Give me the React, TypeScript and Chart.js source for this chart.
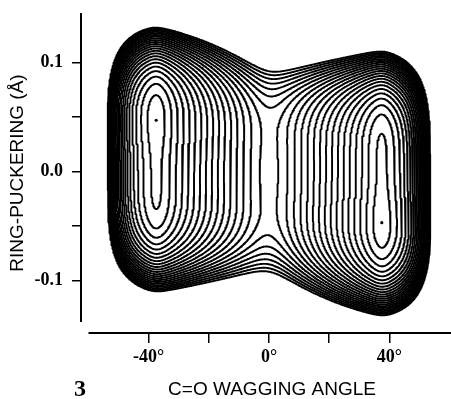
import React, { useEffect, useRef } from 'react';
import { Chart, registerables } from 'chart.js';

Chart.register(...registerables);

// ---------- axes ----------
const X_TICKS = [-40, -20, 0, 20, 40];
const X_TICK_LABELS = ['-40°', '', '0°', '', '40°'];
const Y_TICKS = [-0.1, -0.05, 0, 0.05, 0.1];
const Y_TICK_LABELS = ['-0.1', '', '0.0', '', '0.1'];
const X_RANGE = [-62.5, 64.5];
const Y_RANGE = [-0.1482, 0.1454];
const X_AXIS_START = -60; // drawn x-axis line begins here
const Y_AXIS_END = -0.138; // drawn y-axis line stops here

const X_TITLE = 'C=O WAGGING ANGLE';
const Y_TITLE = 'RING-PUCKERING (Å)';
const FIGURE_NUMBER = '3';

// ---------- minima (dots) ----------
const MINIMA_X = [-37.5, 37.5];
const MINIMA_Y = [0.047, -0.047];

// ---------- contour levels (equally spaced energies) ----------
const LEVELS = [
  0.3, 1.3, 2.3, 3.3, 4.3, 5.3, 6.3, 7.3, 8.3, 9.3, 10.3, 11.3,
  12.3, 13.3, 14.3, 15.3, 16.3, 17.3, 18.3, 19.3, 20.3, 21.3, 22.3,
];

// ---------- surface shape ----------
const WELL_DEG = 37.5; // wagging angle of the two minima
const RIDGE_SLOPE = 21.44; // rise from well to saddle (levels per 40°)
const MIN_ROUND = 0.07; // rounding of the well bottom
const RIDGE_ROUND = 0.15; // rounding of the central ridge
const OUTER_WALL = 15.45; // steep outer wall in x
const OUTER_WALL_WIDTH = 0.4;
const OUTER_WALL_POW = 4.4;
const CORNER = 6; // rounds the outer corners
const PUCKER_QUARTIC = 12.04; // puckering quartic term
const PUCKER_DOUBLE = 2.39; // small puckering double-well term
const PUCKER_SHIFT = 0.1; // shift of puckering centre with wagging
const COUPLING = 0.72; // wag–pucker coupling

// grid used to trace the contours
const GRID_X = [-62, 62, 0.25];
const GRID_Y = [-0.146, 0.146, 0.0008];

const WELL_U = Math.sqrt((WELL_DEG / 40) ** 2 + RIDGE_ROUND ** 2);

function energy(xDeg: number, y: number): number {
  const u = xDeg / 40;
  const w = y / 0.1;
  const s = Math.sqrt(u * u + RIDGE_ROUND * RIDGE_ROUND);
  const dd = s - WELL_U;
  const wc = (-PUCKER_SHIFT * Math.tanh((1.6 * u) / WELL_U)) / Math.tanh(1.6);
  const h = w - wc;
  const h2 = h * h;
  let X = RIDGE_SLOPE * (Math.sqrt(dd * dd + MIN_ROUND * MIN_ROUND) - MIN_ROUND);
  if (dd > 0) {
    const r = dd / OUTER_WALL_WIDTH;
    X += OUTER_WALL * Math.pow(r, OUTER_WALL_POW) + CORNER * r * r * h2 * h2;
  }
  const Y = PUCKER_QUARTIC * h2 * h2 - PUCKER_DOUBLE * h2 + COUPLING * u * h;
  return X + Y;
}

type Pt = { x: number; y: number };

function buildContours(): Pt[][] {
  const xs: number[] = [];
  const ys: number[] = [];
  for (let x = GRID_X[0]; x <= GRID_X[1] + 1e-9; x += GRID_X[2]) xs.push(x);
  for (let y = GRID_Y[0]; y <= GRID_Y[1] + 1e-12; y += GRID_Y[2]) ys.push(y);
  const nx = xs.length;
  const ny = ys.length;
  const f = new Float64Array(nx * ny);
  for (let j = 0; j < ny; j++) for (let i = 0; i < nx; i++) f[j * nx + i] = energy(xs[i], ys[j]);

  const lines: Pt[][] = [];
  // corners: 0=BL 1=BR 2=TR 3=TL ; edges: 0=bottom 1=right 2=top 3=left
  const table: Record<number, number[][]> = {
    1: [[3, 0]], 2: [[0, 1]], 3: [[3, 1]], 4: [[1, 2]], 6: [[0, 2]], 7: [[3, 2]],
    8: [[2, 3]], 9: [[0, 2]], 11: [[1, 2]], 12: [[1, 3]], 13: [[0, 1]], 14: [[3, 0]],
  };

  for (const L of LEVELS) {
    const adj = new Map<number, number[]>();
    const pts = new Map<number, Pt>();
    const edgeId = (i: number, j: number, e: number): number => {
      if (e === 0) return (j * nx + i) * 2;
      if (e === 2) return ((j + 1) * nx + i) * 2;
      if (e === 3) return (j * nx + i) * 2 + 1;
      return (j * nx + i + 1) * 2 + 1;
    };
    const edgePt = (id: number): Pt => {
      let p = pts.get(id);
      if (p) return p;
      const k = id >> 1;
      const i = k % nx;
      const j = (k - i) / nx;
      if ((id & 1) === 0) {
        const a = f[k];
        const b = f[k + 1];
        const t = (L - a) / (b - a);
        p = { x: xs[i] + t * (xs[i + 1] - xs[i]), y: ys[j] };
      } else {
        const a = f[k];
        const b = f[k + nx];
        const t = (L - a) / (b - a);
        p = { x: xs[i], y: ys[j] + t * (ys[j + 1] - ys[j]) };
      }
      pts.set(id, p);
      return p;
    };
    const link = (a: number, b: number) => {
      let la = adj.get(a);
      if (!la) adj.set(a, (la = []));
      la.push(b);
      let lb = adj.get(b);
      if (!lb) adj.set(b, (lb = []));
      lb.push(a);
    };
    for (let j = 0; j < ny - 1; j++) {
      for (let i = 0; i < nx - 1; i++) {
        const v0 = f[j * nx + i];
        const v1 = f[j * nx + i + 1];
        const v2 = f[(j + 1) * nx + i + 1];
        const v3 = f[(j + 1) * nx + i];
        const c = (v0 > L ? 1 : 0) | (v1 > L ? 2 : 0) | (v2 > L ? 4 : 0) | (v3 > L ? 8 : 0);
        if (c === 0 || c === 15) continue;
        let segs: number[][];
        if (c === 5 || c === 10) {
          const centre = (v0 + v1 + v2 + v3) / 4 > L;
          if ((c === 5) === centre) segs = [[0, 1], [2, 3]];
          else segs = [[3, 0], [1, 2]];
        } else segs = table[c];
        for (const [ea, eb] of segs) link(edgeId(i, j, ea), edgeId(i, j, eb));
      }
    }
    const visited = new Set<number>();
    const starts: number[] = [];
    adj.forEach((nb, id) => { if (nb.length === 1) starts.push(id); });
    adj.forEach((_nb, id) => starts.push(id));
    for (const start of starts) {
      if (visited.has(start)) continue;
      const line: Pt[] = [];
      let prev = -1;
      let cur = start;
      for (;;) {
        visited.add(cur);
        line.push(edgePt(cur));
        const nb = adj.get(cur)!;
        let nxt = -1;
        for (const n of nb) if (n !== prev && !visited.has(n)) { nxt = n; break; }
        if (nxt === -1) {
          if (line.length > 2 && nb.includes(start)) line.push(edgePt(start));
          break;
        }
        prev = cur;
        cur = nxt;
      }
      if (line.length > 1) lines.push(line);
    }
  }
  return lines;
}

const axisLines = {
  id: 'axisLines',
  afterDatasetsDraw(chart: any) {
    const { ctx, chartArea, scales } = chart;
    ctx.save();
    ctx.strokeStyle = '#000';
    ctx.lineWidth = 2;
    ctx.beginPath();
    ctx.moveTo(chartArea.left, scales.y.getPixelForValue(Y_RANGE[1]));
    ctx.lineTo(chartArea.left, scales.y.getPixelForValue(Y_AXIS_END));
    ctx.stroke();
    ctx.beginPath();
    ctx.moveTo(scales.x.getPixelForValue(X_AXIS_START), chartArea.bottom);
    ctx.lineTo(chartArea.right, chartArea.bottom);
    ctx.stroke();
    ctx.restore();
  },
};

export default function App() {
  const ref = useRef<HTMLCanvasElement | null>(null);
  useEffect(() => {
    if (!ref.current) return;
    const contours = buildContours();
    const datasets: any[] = contours.map((line) => ({
      data: line,
      showLine: true,
      borderColor: '#000',
      borderWidth: 1.9,
      pointRadius: 0,
      tension: 0,
      fill: false,
      borderJoinStyle: 'round',
      borderCapStyle: 'round',
    }));
    datasets.push({
      data: MINIMA_X.map((x, i) => ({ x, y: MINIMA_Y[i] })),
      showLine: false,
      pointRadius: 1.6,
      pointBorderWidth: 0,
      backgroundColor: '#000',
      borderColor: '#000',
    });
    const tickFont = { family: 'Liberation Serif', size: 18, weight: 'bold' as const };
    const titleFont = { family: 'Liberation Sans', size: 19, weight: 'normal' as const, lineHeight: 1 };
    const chart = new Chart(ref.current, {
      type: 'scatter',
      data: { datasets },
      plugins: [axisLines],
      options: {
        animation: false,
        responsive: false,
        events: [],
        layout: { padding: { top: 13, left: 0, right: 0, bottom: 0 } },
        plugins: { legend: { display: false }, tooltip: { enabled: false } },
        scales: {
          x: {
            type: 'linear',
            min: X_RANGE[0],
            max: X_RANGE[1],
            afterBuildTicks: (s: any) => { s.ticks = X_TICKS.map((v) => ({ value: v })); },
            afterFit: (s: any) => {
              s.height = 66;
              s.paddingLeft = 0;
              s.paddingRight = 0;
            },
            grid: { drawOnChartArea: false, drawTicks: true, tickLength: 10, color: '#000', lineWidth: 1.5 },
            border: { display: false },
            ticks: {
              autoSkip: false,
              maxRotation: 0,
              padding: 4,
              color: '#000',
              font: tickFont,
              callback: (_v: any, i: number) => X_TICK_LABELS[i],
            },
            title: { display: true, text: X_TITLE, color: '#000', font: titleFont, padding: { top: 0, bottom: 0 } },
          },
          y: {
            type: 'linear',
            min: Y_RANGE[0],
            max: Y_RANGE[1],
            afterBuildTicks: (s: any) => { s.ticks = Y_TICKS.map((v) => ({ value: v })); },
            afterFit: (s: any) => {
              s.width = 81;
              s.paddingTop = 0;
              s.paddingBottom = 0;
            },
            grid: { drawOnChartArea: false, drawTicks: true, tickLength: 9, color: '#000', lineWidth: 1.5 },
            border: { display: false },
            ticks: {
              autoSkip: false,
              padding: 9,
              color: '#000',
              font: tickFont,
              callback: (_v: any, i: number) => Y_TICK_LABELS[i],
            },
            title: { display: true, text: Y_TITLE, color: '#000', font: { ...titleFont, lineHeight: 1.2 }, padding: { top: 6, bottom: 0 } },
          },
        },
      },
    });
    return () => chart.destroy();
  }, []);
  return (
    <div style={{ position: 'absolute', left: 0, top: 0, width: 451, height: 399, overflow: 'hidden', background: '#fff' }}>
      <canvas ref={ref} width={467} height={399} style={{ display: 'block', width: 467, height: 399 }} />
      <div
        style={{
          position: 'absolute',
          left: 74,
          top: 376,
          fontFamily: 'Liberation Serif',
          fontWeight: 'bold',
          fontSize: 24,
          lineHeight: 1,
          color: '#000',
        }}
      >
        {FIGURE_NUMBER}
      </div>
    </div>
  );
}
